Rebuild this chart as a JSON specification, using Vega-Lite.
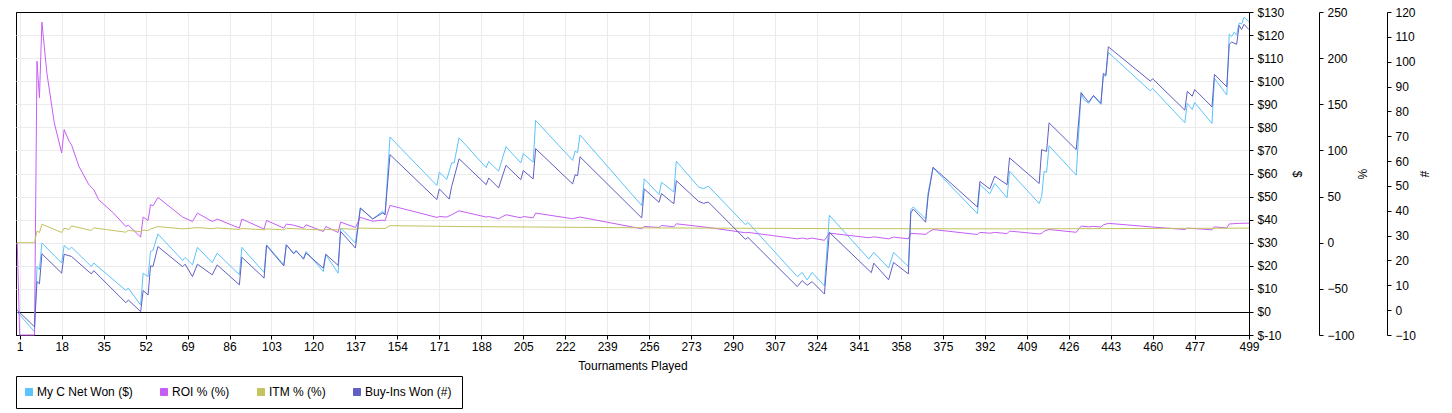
{
  "$schema": "https://vega.github.io/schema/vega-lite/v6.json",
  "width": 1233,
  "height": 323,
  "autosize": {"type": "none"},
  "padding": {"left": 16, "top": 12, "right": 203, "bottom": 78},
  "background": "white",
  "config": {
    "font": "Liberation Sans",
    "view": {"stroke": "black", "strokeWidth": 1},
    "axis": {
      "labelFont": "Liberation Sans", "labelFontSize": 12, "labelColor": "black",
      "titleFont": "Liberation Sans", "titleFontSize": 12, "titleFontWeight": "normal", "titleColor": "black",
      "domainColor": "black", "tickColor": "black", "tickSize": 4, "gridColor": "#ebebeb",
      "labelFlush": false, "labelOverlap": false
    }
  },
  "datasets": {
    "net": [
      {"t":0,"v":0},{"t":7,"v":-8.6},{"t":8,"v":19.7},{"t":9,"v":18.3},{"t":10,"v":29.9},{"t":18,"v":21.2},{"t":19,"v":28.8},{"t":21,"v":27},{"t":22,"v":28.1},{"t":30,"v":19.7},{"t":31,"v":21.2},{"t":44,"v":9.3},{"t":45,"v":10.3},{"t":50,"v":3},{"t":51,"v":16.8},{"t":53,"v":15.3},{"t":54,"v":26.2},{"t":55,"v":26.7},{"t":57,"v":33.8},{"t":67,"v":22.3},{"t":68,"v":23.6},{"t":71,"v":20.4},{"t":73,"v":28},{"t":79,"v":21.4},{"t":81,"v":25.5},{"t":90,"v":16.1},{"t":91,"v":28},{"t":100,"v":17.1},{"t":101,"v":29.1},{"t":108,"v":20.4},{"t":109,"v":29.1},{"t":112,"v":25.5},{"t":113,"v":26.2},{"t":116,"v":23.3},{"t":117,"v":26.2},{"t":124,"v":17.5},{"t":125,"v":24.8},{"t":130,"v":16.8},{"t":131,"v":36.4},{"t":137,"v":29.9},{"t":139,"v":45},{"t":144,"v":40.3},{"t":148,"v":43.6},{"t":149,"v":42.2},{"t":151,"v":75.8},{"t":170,"v":54.8},{"t":171,"v":60.6},{"t":174,"v":57.4},{"t":176,"v":64.6},{"t":177,"v":64.6},{"t":179,"v":75.5},{"t":190,"v":62.5},{"t":191,"v":65.2},{"t":195,"v":61},{"t":198,"v":71.6},{"t":204,"v":64.6},{"t":205,"v":68.6},{"t":209,"v":64.9},{"t":210,"v":83},{"t":225,"v":65.7},{"t":226,"v":69.7},{"t":227,"v":69},{"t":228,"v":76.7},{"t":253,"v":46.1},{"t":254,"v":57.7},{"t":260,"v":50.9},{"t":261,"v":56.2},{"t":266,"v":52},{"t":267,"v":65.3},{"t":276,"v":54.2},{"t":278,"v":53.4},{"t":280,"v":54.5},{"t":295,"v":37.8},{"t":296,"v":38.8},{"t":316,"v":15.3},{"t":318,"v":17.1},{"t":320,"v":13.9},{"t":322,"v":17.1},{"t":327,"v":11.3},{"t":329,"v":41.9},{"t":345,"v":22.9},{"t":347,"v":25.8},{"t":353,"v":19},{"t":355,"v":25.8},{"t":361,"v":19.7},{"t":362,"v":44.3},{"t":363,"v":45.5},{"t":368,"v":40.3},{"t":369,"v":51.6},{"t":371,"v":62.5},{"t":389,"v":42.6},{"t":390,"v":55.2},{"t":394,"v":51.2},{"t":396,"v":55.7},{"t":401,"v":49.5},{"t":402,"v":61},{"t":414,"v":47},{"t":415,"v":50},{"t":416,"v":61},{"t":417,"v":60.5},{"t":418,"v":72},{"t":429,"v":59.3},{"t":431,"v":95.1},{"t":432,"v":92.2},{"t":434,"v":90.4},{"t":436,"v":93.6},{"t":439,"v":90},{"t":440,"v":102.3},{"t":441,"v":102.3},{"t":442,"v":112.5},{"t":459,"v":95.8},{"t":460,"v":96.8},{"t":473,"v":82},{"t":474,"v":90.4},{"t":476,"v":87.8},{"t":477,"v":90.7},{"t":484,"v":81.7},{"t":485,"v":101.2},{"t":490,"v":94},{"t":491,"v":120.4},{"t":492,"v":119.4},{"t":493,"v":121.2},{"t":494,"v":120},{"t":495,"v":125.2},{"t":496,"v":124.8},{"t":497,"v":127.7},{"t":499,"v":125.8}
    ],
    "buyins": [
      {"t":0,"v":0},{"t":7,"v":-6.7},{"t":8,"v":11.5},{"t":9,"v":10.6},{"t":10,"v":22.7},{"t":18,"v":14.9},{"t":19,"v":22.5},{"t":22,"v":21.6},{"t":30,"v":14.6},{"t":31,"v":15.9},{"t":44,"v":3},{"t":45,"v":4.1},{"t":50,"v":-0.6},{"t":51,"v":7.9},{"t":53,"v":6.1},{"t":54,"v":17.8},{"t":55,"v":17.6},{"t":57,"v":25.6},{"t":67,"v":17.5},{"t":68,"v":18.5},{"t":71,"v":13.5},{"t":73,"v":18.5},{"t":79,"v":14.2},{"t":81,"v":18.2},{"t":90,"v":10.2},{"t":91,"v":21.3},{"t":100,"v":12.9},{"t":101,"v":26},{"t":108,"v":17.8},{"t":109,"v":26.3},{"t":112,"v":22.7},{"t":113,"v":24},{"t":116,"v":20.5},{"t":117,"v":23},{"t":124,"v":16.9},{"t":125,"v":22.5},{"t":130,"v":18},{"t":131,"v":31.7},{"t":137,"v":25},{"t":139,"v":41.1},{"t":144,"v":36.7},{"t":148,"v":39.1},{"t":149,"v":38.4},{"t":151,"v":62.6},{"t":170,"v":44.5},{"t":171,"v":48.8},{"t":175,"v":44.7},{"t":176,"v":49.8},{"t":179,"v":60.9},{"t":190,"v":50.5},{"t":191,"v":53.2},{"t":195,"v":49.2},{"t":198,"v":58.3},{"t":204,"v":52.5},{"t":205,"v":56.2},{"t":209,"v":52.8},{"t":210,"v":65},{"t":225,"v":50.8},{"t":226,"v":54.5},{"t":227,"v":54.1},{"t":228,"v":61.7},{"t":253,"v":37.1},{"t":254,"v":48.8},{"t":260,"v":43.4},{"t":261,"v":46.9},{"t":266,"v":42.8},{"t":267,"v":52.1},{"t":276,"v":43.8},{"t":278,"v":43},{"t":280,"v":43.5},{"t":295,"v":28.5},{"t":296,"v":29.3},{"t":316,"v":9.5},{"t":318,"v":11.9},{"t":320,"v":10},{"t":322,"v":11.5},{"t":327,"v":6.5},{"t":329,"v":31.3},{"t":346,"v":15.1},{"t":347,"v":18.9},{"t":353,"v":12.2},{"t":355,"v":19.2},{"t":361,"v":14.6},{"t":362,"v":39.1},{"t":363,"v":40.7},{"t":368,"v":35.4},{"t":369,"v":45.8},{"t":371,"v":57.5},{"t":389,"v":41.5},{"t":390,"v":51.8},{"t":394,"v":48.8},{"t":396,"v":53.9},{"t":401,"v":50.5},{"t":402,"v":61.3},{"t":414,"v":51},{"t":415,"v":64.6},{"t":417,"v":63.9},{"t":418,"v":75.4},{"t":429,"v":64.6},{"t":431,"v":87.5},{"t":434,"v":83.7},{"t":436,"v":86.4},{"t":439,"v":83.2},{"t":440,"v":95.3},{"t":441,"v":94.5},{"t":442,"v":106},{"t":459,"v":92.2},{"t":460,"v":93.1},{"t":473,"v":80.5},{"t":474,"v":88.1},{"t":476,"v":86.1},{"t":477,"v":88.8},{"t":484,"v":81.8},{"t":485,"v":94.9},{"t":490,"v":89.9},{"t":491,"v":107},{"t":492,"v":107.9},{"t":494,"v":107},{"t":495,"v":114.6},{"t":496,"v":113},{"t":497,"v":115},{"t":499,"v":112.9}
    ],
    "roi": [
      {"t":0,"v":0},{"t":1,"v":-100},{"t":7,"v":-100},{"t":8,"v":196.7},{"t":9,"v":157},{"t":10,"v":239},{"t":12,"v":184},{"t":15,"v":130},{"t":18,"v":97.3},{"t":19,"v":122.6},{"t":21,"v":110},{"t":22,"v":106},{"t":25,"v":82.7},{"t":29,"v":62.9},{"t":31,"v":57.4},{"t":33,"v":46.6},{"t":39,"v":32.1},{"t":44,"v":17.6},{"t":45,"v":19},{"t":50,"v":6.1},{"t":51,"v":27.8},{"t":53,"v":24.1},{"t":54,"v":41.2},{"t":55,"v":40},{"t":57,"v":49.1},{"t":67,"v":27.8},{"t":71,"v":23},{"t":73,"v":32.1},{"t":79,"v":23},{"t":81,"v":25.6},{"t":90,"v":15.8},{"t":91,"v":25.6},{"t":100,"v":14.8},{"t":101,"v":24.1},{"t":108,"v":15.8},{"t":109,"v":20.2},{"t":112,"v":19},{"t":116,"v":15.8},{"t":117,"v":19.4},{"t":124,"v":12.2},{"t":125,"v":17.6},{"t":130,"v":11.1},{"t":131,"v":22.4},{"t":137,"v":16.5},{"t":139,"v":27.5},{"t":144,"v":23.3},{"t":148,"v":24.5},{"t":149,"v":23.8},{"t":151,"v":40.4},{"t":170,"v":27.4},{"t":171,"v":28.4},{"t":174,"v":27.8},{"t":176,"v":30.3},{"t":179,"v":34.6},{"t":190,"v":27.8},{"t":191,"v":28.4},{"t":195,"v":26},{"t":198,"v":30.3},{"t":204,"v":27},{"t":205,"v":28.4},{"t":209,"v":27},{"t":210,"v":32.1},{"t":225,"v":26},{"t":228,"v":27.8},{"t":253,"v":15.1},{"t":254,"v":17.6},{"t":260,"v":16.5},{"t":261,"v":18.7},{"t":266,"v":17.2},{"t":267,"v":20.5},{"t":280,"v":16.5},{"t":295,"v":10.8},{"t":296,"v":11.2},{"t":316,"v":4.2},{"t":318,"v":5.1},{"t":320,"v":4},{"t":322,"v":5},{"t":327,"v":2.6},{"t":329,"v":10.4},{"t":345,"v":5.4},{"t":347,"v":6.4},{"t":353,"v":4.2},{"t":355,"v":6.1},{"t":361,"v":4.2},{"t":362,"v":10.2},{"t":368,"v":9.1},{"t":369,"v":11.1},{"t":371,"v":14.3},{"t":389,"v":8.9},{"t":390,"v":11.2},{"t":394,"v":10.3},{"t":396,"v":11.2},{"t":401,"v":9.9},{"t":402,"v":12.6},{"t":414,"v":9.5},{"t":415,"v":10},{"t":416,"v":12.5},{"t":418,"v":14.3},{"t":429,"v":11.3},{"t":431,"v":18},{"t":434,"v":17.2},{"t":436,"v":17.7},{"t":439,"v":17},{"t":440,"v":19.3},{"t":442,"v":21},{"t":459,"v":17.2},{"t":473,"v":14.3},{"t":474,"v":15.8},{"t":484,"v":14},{"t":485,"v":17.2},{"t":490,"v":15.9},{"t":491,"v":20.3},{"t":495,"v":21},{"t":499,"v":21.2}
    ],
    "itm": [
      {"t":0,"v":0},{"t":7,"v":0},{"t":8,"v":12.5},{"t":9,"v":11.1},{"t":10,"v":20},{"t":18,"v":11.1},{"t":19,"v":15.8},{"t":21,"v":14.3},{"t":22,"v":18.2},{"t":30,"v":13.3},{"t":31,"v":16.1},{"t":44,"v":11.4},{"t":45,"v":13.3},{"t":50,"v":12},{"t":51,"v":13.7},{"t":53,"v":13.2},{"t":54,"v":14.8},{"t":57,"v":17.5},{"t":67,"v":15},{"t":73,"v":16.4},{"t":79,"v":15.2},{"t":81,"v":16},{"t":90,"v":14.4},{"t":91,"v":15.4},{"t":100,"v":14},{"t":101,"v":15},{"t":108,"v":13.9},{"t":109,"v":15.6},{"t":124,"v":13.7},{"t":125,"v":14.4},{"t":130,"v":13.8},{"t":131,"v":15.3},{"t":137,"v":14.6},{"t":139,"v":15.8},{"t":149,"v":15.4},{"t":151,"v":18.5},{"t":180,"v":17.5},{"t":210,"v":17},{"t":260,"v":16},{"t":300,"v":15.6},{"t":330,"v":15.3},{"t":400,"v":15},{"t":430,"v":15.2},{"t":499,"v":15.8}
    ]
  },
  "encoding": {
    "x": {"field": "t", "type": "quantitative", "scale": {"domain": [-0.5, 499], "nice": false, "zero": false},
      "axis": {"values": [1,18,35,52,69,86,103,120,137,154,171,188,205,222,239,256,273,290,307,324,341,358,375,392,409,426,443,460,477,499],
        "grid": true, "title": "Tournaments Played", "labelPadding": 2, "titlePadding": 8}}
  },
  "resolve": {"scale": {"y": "independent"}, "axis": {"y": "independent"}},
  "layer": [
    {
      "data": {"name": "net"},
      "mark": {"type": "line", "strokeWidth": 1},
      "encoding": {
        "y": {"field": "v", "type": "quantitative", "scale": {"domain": [-10, 130], "nice": false, "zero": false},
          "axis": {"orient": "right", "values": [-10,0,10,20,30,40,50,60,70,80,90,100,110,120,130], "labelExpr": "'$' + datum.value",
            "grid": true,
            "gridColor": {"condition": {"test": "datum.value === 0 || datum.value === -10 || datum.value === 130", "value": "black"}, "value": "#ebebeb"},
            "title": "$", "titleAngle": 90, "titleX": 47, "titleY": 161.5, "titleAlign": "center", "titleBaseline": "middle", "labelPadding": 4}},
        "color": {"datum": "My C Net Won ($)", "type": "nominal",
          "scale": {"domain": ["My C Net Won ($)", "ROI % (%)", "ITM % (%)", "Buy-Ins Won (#)"], "range": ["#5cc3fb", "#c65ef5", "#c3c35f", "#5f5fc4"]},
          "legend": {"title": null, "orient": "none", "legendX": 0, "legendY": 364, "direction": "horizontal", "columns": 4,
            "symbolType": "square", "symbolSize": 49, "symbolStrokeWidth": 1, "symbolStrokeColor": "black", "symbolOffset": -3,
            "labelFontSize": 12, "labelFont": "Liberation Sans", "labelColor": "black", "labelOffset": 2, "columnPadding": 25,
            "padding": 10, "strokeColor": "black", "fillColor": "white", "labelLimit": 300,
            "encode": {"symbols": {"update": {"fill": {"scale": "color", "field": "value"}, "fillOpacity": {"value": 1}, "stroke": {"value": "black"}, "strokeOpacity": {"value": 1}, "strokeWidth": {"value": 1}}}}}}
      }
    },
    {
      "data": {"name": "roi"},
      "mark": {"type": "line", "strokeWidth": 1},
      "encoding": {
        "y": {"field": "v", "type": "quantitative", "scale": {"domain": [-100, 250], "nice": false, "zero": false},
          "axis": {"orient": "right", "offset": 70, "values": [-100,-50,0,50,100,150,200,250], "grid": false,
            "title": "%", "titleAngle": 90, "titleX": 42, "titleY": 161.5, "titleAlign": "center", "titleBaseline": "middle", "labelPadding": 4}},
        "color": {"datum": "ROI % (%)", "type": "nominal"}
      }
    },
    {
      "data": {"name": "itm"},
      "mark": {"type": "line", "strokeWidth": 1},
      "encoding": {
        "y": {"field": "v", "type": "quantitative", "scale": {"domain": [-100, 250], "nice": false, "zero": false}, "axis": null},
        "color": {"datum": "ITM % (%)", "type": "nominal"}
      }
    },
    {
      "data": {"name": "buyins"},
      "mark": {"type": "line", "strokeWidth": 1},
      "encoding": {
        "y": {"field": "v", "type": "quantitative", "scale": {"domain": [-10, 120], "nice": false, "zero": false},
          "axis": {"orient": "right", "offset": 138, "values": [-10,0,10,20,30,40,50,60,70,80,90,100,110,120], "grid": false,
            "title": "#", "titleAngle": 90, "titleX": 36, "titleY": 161.5, "titleAlign": "center", "titleBaseline": "middle", "labelPadding": 4}},
        "color": {"datum": "Buy-Ins Won (#)", "type": "nominal"}
      }
    }
  ]
}
